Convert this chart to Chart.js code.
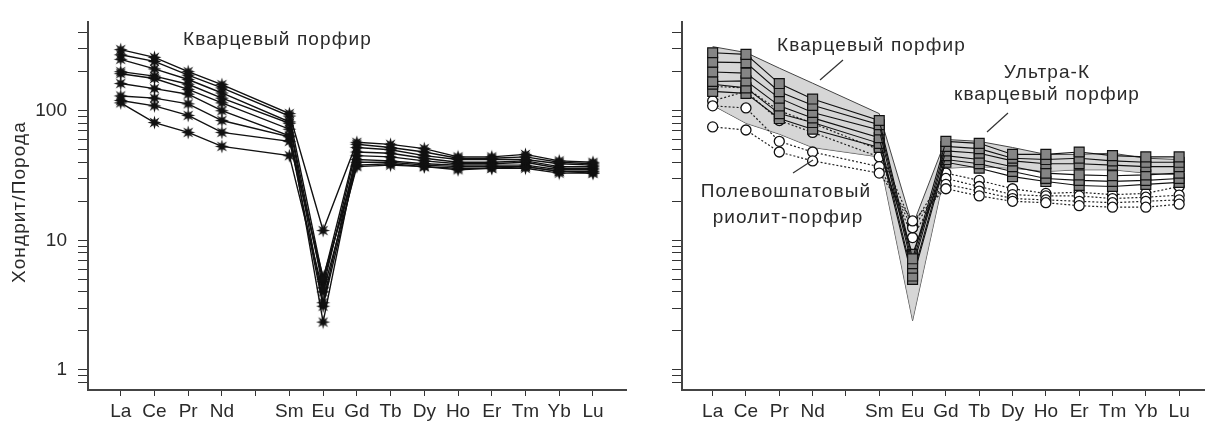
<!DOCTYPE html>
<html>
<head>
<meta charset="utf-8">
<script src="https://cdn.jsdelivr.net/npm/chart.js@4.4.1/dist/chart.umd.min.js"></script>
<style>
body { margin: 0; background: #fff; width: 1213px; height: 421px; overflow: hidden; position: relative; }
canvas { position: absolute; top: 0; }
#left { left: 0; }
#right { left: 640px; }
</style>
</head>
<body>
<canvas id="left" width="640" height="421"></canvas>
<canvas id="right" width="573" height="421"></canvas>
<script>
// элементы (Pm пропущен — пустая метка)
const elements = ['La', 'Ce', 'Pr', 'Nd', '', 'Sm', 'Eu', 'Gd', 'Tb', 'Dy', 'Ho', 'Er', 'Tm', 'Yb', 'Lu'];
const yTicks = [0.8, 0.9, 1, 2, 3, 4, 5, 6, 7, 8, 9, 10, 20, 30, 40, 50, 60, 70, 80, 90, 100, 200, 300, 400];
const yLabels = [1, 10, 100];

// Кварцевый порфир (левая диаграмма)
const qp1 = [296, 258, 200, 159, null, 95, 11.9, 57, 55, 51, 44, 44, 46, 41, 40];
const qp2 = [270, 240, 188, 150, null, 91, 5.0, 55, 52, 48, 43, 43, 44, 40, 39];
const qp3 = [249, 210, 174, 137, null, 82, 4.3, 52, 50, 45, 42, 42, 42, 39, 38];
const qp4 = [200, 185, 160, 125, null, 80, 3.3, 48, 47, 43, 40, 40, 41, 37, 37];
const qp5 = [193, 177, 146, 115, null, 72, 2.34, 45, 44, 41, 39, 39, 40, 36, 36];
const qp6 = [162, 148, 134, 100, null, 64, 4.8, 42, 41, 39, 38, 38, 38, 35, 35];
const qp7 = [130, 125, 113, 84, null, 63, 3.1, 40, 40, 38, 37, 37, 37, 34, 34];
const qp8 = [120, 109, 92, 68, null, 58, 5.2, 38, 39, 37, 36, 36, 37, 34, 33];
const qp9 = [115, 81, 68, 53, null, 45, 4.0, 37, 38, 37, 35, 36, 36, 33, 33];

// Ультра-К кварцевый порфир (правая диаграмма)
const uk1 = [280, 272, 162, 123, null, 84, 7.2, 58, 56, 46, 46, 48, 45, 44, 44];
const uk2 = [237, 235, 140, 110, null, 78, 6.6, 53, 51, 43, 42, 43, 41, 40, 40];
const uk3 = [199, 195, 125, 97, null, 71, 6.1, 49, 47, 41, 39, 39, 38, 37, 37];
const uk4 = [168, 170, 109, 88, null, 62, 5.3, 45, 42, 37, 33, 32, 31.5, 32, 33];
const uk5 = [160, 150, 95, 81, null, 56, 5.0, 42, 39, 34, 30, 29, 28.5, 29, 30];
const uk6 = [141, 136, 87, 72, null, 52, 7.8, 40, 36, 31, 28.4, 26.5, 26, 27, 28];

// Полевошпатовый риолит-порфир
const rp1 = [75, 71, 48, 41, null, 33, 14.1, 25, 22, 20, 19.5, 18.5, 18, 18, 19];
const rp2 = [109, 105, 58, 48, null, 37, 12.5, 27, 24, 21, 20.5, 20, 19.5, 20, 20.5];
const rp3 = [119, 141, 84, 68, null, 44, 10.5, 30, 26, 22.5, 22, 22, 21, 21.5, 22.3];
const rp4 = [154, 150, 100, 80, null, 50, 13, 33, 29, 25, 23, 23.5, 22.5, 23, 26];

// поле кварцевого порфира на правой диаграмме
const fieldTop = [312, 281, 213, 163, null, 95, 13, 60, 58, 52, 46, 46, 47, 43, 42];
const fieldBottom = [110, 80, 66, 52, null, 44, 2.4, 36, 37, 36, 34, 35, 35, 33, 32];

const FONT = '"Liberation Sans", Arial, sans-serif';
const TXT = '#2a2a2a';

function pts(arr) {
    return arr.map((v, i) => ({ x: i, y: v })).filter(p => p.y !== null);
}

function makeStar() {
    const c = document.createElement('canvas');
    c.width = 15; c.height = 15;
    const g = c.getContext('2d');
    g.fillStyle = '#111';
    g.beginPath();
    for (let k = 0; k < 16; k++) {
        const r = k % 2 === 0 ? 7 : 3;
        const a = k * Math.PI / 8 - Math.PI / 2;
        g.lineTo(7.5 + r * Math.cos(a), 7.5 + r * Math.sin(a));
    }
    g.closePath();
    g.fill();
    return c;
}
const star = makeStar();

function makeScales(axisWidth, xMin, xMax, showLabels) {
    return {
        x: {
            type: 'linear', min: xMin, max: xMax,
            afterBuildTicks: s => { s.ticks = elements.map((e, i) => ({ value: i })); },
            afterFit: s => { s.height = 31; },
            ticks: {
                callback: v => elements[v] !== undefined ? elements[v] : '',
                autoSkip: false, maxRotation: 0, padding: 4, color: TXT,
                font: { family: FONT, size: 19 }
            },
            grid: { drawOnChartArea: false, drawTicks: true, tickLength: 6, color: '#333', lineWidth: 1 },
            border: { display: true, color: '#444', width: 2 }
        },
        y: {
            type: 'logarithmic', min: 0.73, max: 480,
            afterBuildTicks: s => { s.ticks = yTicks.map(v => ({ value: v })); },
            afterFit: s => { s.width = axisWidth; },
            ticks: {
                callback: v => (showLabels && yLabels.includes(v)) ? String(v) : '',
                autoSkip: false, padding: 11, color: TXT,
                font: { family: FONT, size: 19 }
            },
            grid: { drawOnChartArea: false, drawTicks: true, tickLength: 10, color: '#333', lineWidth: 1 },
            border: { display: true, color: '#444', width: 2 }
        }
    };
}

// подписи и выноски
function notesPlugin(notes, leaders, yTitle) {
    return {
        id: 'notes',
        afterDraw(chart) {
            const ctx = chart.ctx;
            ctx.save();
            ctx.fillStyle = TXT;
            ctx.font = '19px ' + FONT;
            ctx.textBaseline = 'middle';
            ctx.letterSpacing = '1.1px';
            notes.forEach(n => {
                ctx.textAlign = n.align;
                ctx.fillText(n.text, n.x, n.y);
            });
            ctx.strokeStyle = '#333';
            ctx.lineWidth = 1.2;
            leaders.forEach(l => {
                ctx.beginPath();
                ctx.moveTo(l[0], l[1]);
                ctx.lineTo(l[2], l[3]);
                ctx.stroke();
            });
            if (yTitle) {
                ctx.translate(20, 202);
                ctx.rotate(-Math.PI / 2);
                ctx.textAlign = 'center';
                ctx.fillText(yTitle, 0, 0);
            }
            ctx.restore();
        }
    };
}

const common = {
    responsive: false,
    animation: false,
    events: [],
    plugins: { legend: { display: false }, tooltip: { enabled: false } }
};

// левая диаграмма
const leftSets = [qp1, qp2, qp3, qp4, qp5, qp6, qp7, qp8, qp9].map(s => ({
    data: pts(s),
    borderColor: '#111',
    borderWidth: 1.4,
    pointStyle: star,
    pointRadius: 7
}));

new Chart(document.getElementById('left'), {
    type: 'line',
    data: { datasets: leftSets },
    options: Object.assign({}, common, {
        layout: { padding: { top: 14, right: 14, left: 0, bottom: 0 } },
        scales: makeScales(88, -0.97, 14.98, true)
    }),
    plugins: [notesPlugin(
        [{ text: 'Кварцевый порфир', x: 183, y: 40, align: 'left' }],
        [],
        'Хондрит/Порода'
    )]
});

// правая диаграмма
const ukSets = [uk1, uk2, uk3, uk4, uk5, uk6].map(s => ({
    data: pts(s),
    borderColor: '#111',
    borderWidth: 1.1,
    pointStyle: 'rect',
    pointRadius: 7,
    pointBackgroundColor: '#858585',
    pointBorderColor: '#111',
    pointBorderWidth: 1.2
}));
const rpSets = [rp1, rp2, rp3, rp4].map(s => ({
    data: pts(s),
    borderColor: '#222',
    borderWidth: 1.2,
    borderDash: [2, 2],
    pointStyle: 'circle',
    pointRadius: 5,
    pointBackgroundColor: '#fff',
    pointBorderColor: '#111',
    pointBorderWidth: 1.3
}));
const fieldSets = [
    { data: pts(fieldTop), borderColor: '#444', borderWidth: 1, pointRadius: 0, fill: '+1', backgroundColor: 'rgba(200,200,200,0.75)' },
    { data: pts(fieldBottom), borderColor: '#444', borderWidth: 1, pointRadius: 0, fill: false }
];

new Chart(document.getElementById('right'), {
    type: 'line',
    data: { datasets: ukSets.concat(rpSets, fieldSets) },
    options: Object.assign({}, common, {
        layout: { padding: { top: 14, right: 1, left: 0, bottom: 0 } },
        scales: makeScales(42, -0.92, 14.77, false)
    }),
    plugins: [notesPlugin(
        [
            { text: 'Кварцевый порфир', x: 137, y: 46, align: 'left' },
            { text: 'Ультра-К', x: 407, y: 73, align: 'center' },
            { text: 'кварцевый порфир', x: 407, y: 95, align: 'center' },
            { text: 'Полевошпатовый', x: 146, y: 192, align: 'center' },
            { text: 'риолит-порфир', x: 148, y: 218, align: 'center' }
        ],
        [[203, 60, 180, 80], [368, 113, 347, 132], [153, 173, 173, 160]],
        null
    )]
});
</script>
</body>
</html>
